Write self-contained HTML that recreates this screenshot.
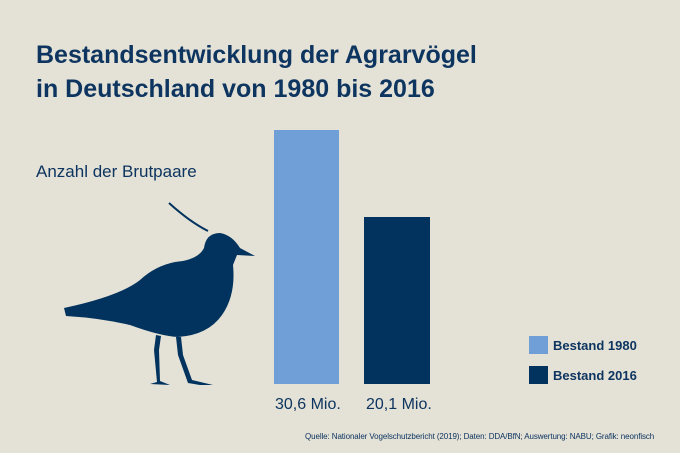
<!DOCTYPE html>
<html><head><meta charset="utf-8"><style>
body{margin:0;width:680px;height:453px;background:#e4e1d6;position:relative;overflow:hidden;font-family:"Liberation Sans",sans-serif;color:#0d3560}
.t{position:absolute;left:36px;top:38px;font-size:25px;font-weight:bold;line-height:34px;letter-spacing:0}
.a{position:absolute;left:36px;top:162px;font-size:17px}
.b{position:absolute}
.l{position:absolute;font-size:13px;font-weight:bold}
.v{position:absolute;top:396px;font-size:16px}
</style></head><body>
<div class="t">Bestandsentwicklung der Agrarvögel<br>in Deutschland von 1980 bis 2016</div>
<div class="a">Anzahl der Brutpaare</div>
<div class="b" style="left:274px;top:130px;width:65px;height:254px;background:#6f9fd6"></div>
<div class="b" style="left:364px;top:217px;width:66px;height:167px;background:#02335e"></div>
<div class="v" style="left:275px">30,6 Mio.</div>
<div class="v" style="left:366px">20,1 Mio.</div>
<div class="b" style="left:529px;top:336px;width:19px;height:18px;background:#6f9fd6"></div>
<div class="b" style="left:529px;top:366px;width:19px;height:18px;background:#02335e"></div>
<div class="l" style="left:553px;top:338px">Bestand 1980</div>
<div class="l" style="left:553px;top:368px">Bestand 2016</div>
<div style="position:absolute;left:305px;top:432px;font-size:8px;letter-spacing:-0.1px">Quelle: Nationaler Vogelschutzbericht (2019); Daten: DDA/BfN; Auswertung: NABU; Grafik: neonfisch</div>
<svg style="position:absolute;left:0;top:0" width="680" height="453">
<path d="M169,203 Q190,222 208,231" stroke="#02335e" stroke-width="2" fill="none"/>
<path d="M64,308 L66,316 Q100,318 130,325 Q160,336 178,337 Q208,335 222,315 Q236,295 233,265 L237,255 L255,256 L240,248 Q232,235 220,233 Q206,233 204,248 Q198,260 175,262 Q155,266 140,280 Q120,296 64,308Z" fill="#02335e"/>
<path d="M156,335 L154,350 L157,382 L150,384 L170,385 L160,381 L159,350 L161,336Z M176,337 L178,355 L188,383 L200,385 L213,385 L192,380 L183,355 L181,337Z" fill="#02335e"/>
</svg>
</body></html>
